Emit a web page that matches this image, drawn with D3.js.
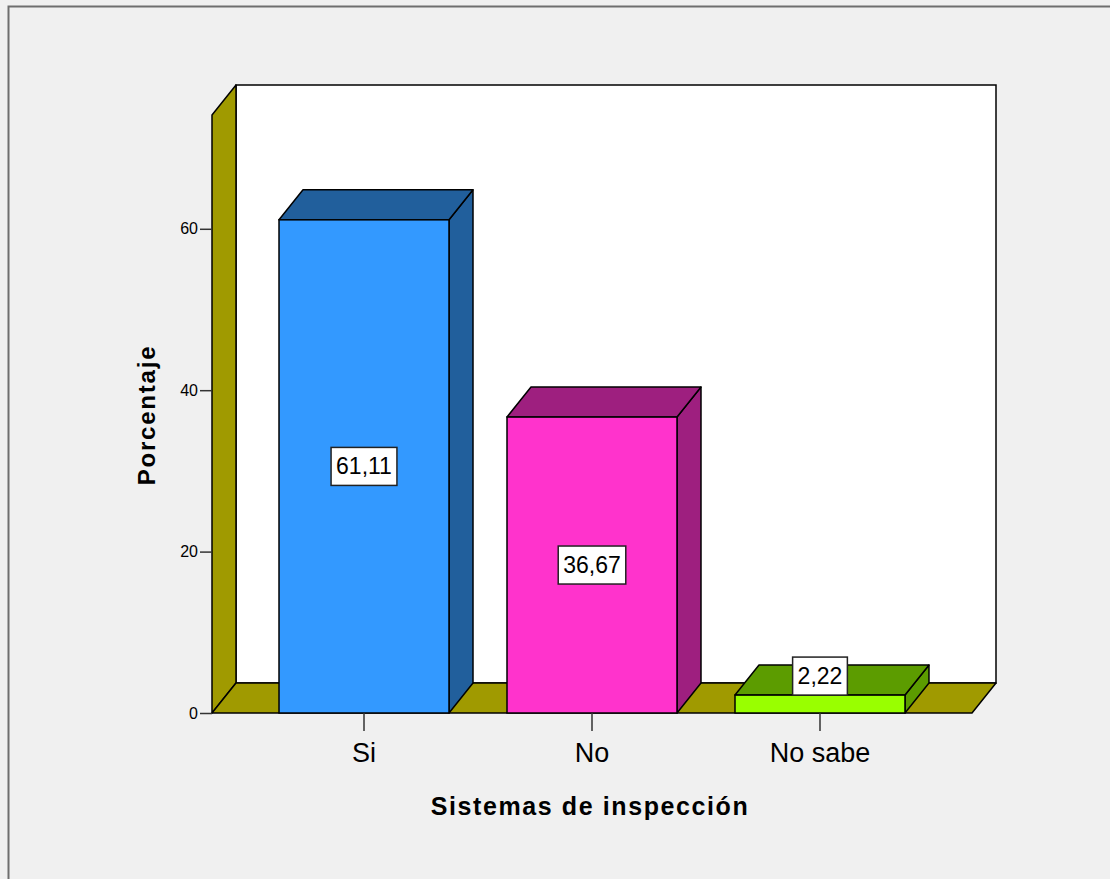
<!DOCTYPE html>
<html>
<head>
<meta charset="utf-8">
<script src="https://cdn.jsdelivr.net/npm/d3@7"></script>
<style>
  html, body { margin: 0; padding: 0; background: #f0f0f0; }
  svg { display: block; }
  text { font-family: "Liberation Sans", Arial, sans-serif; fill: #000; }
</style>
</head>
<body>
<svg id="chart" width="1110" height="879"></svg>
<script>
// Data
const categories = ["Si", "No", "No sabe"];
const percentages = [61.11, 36.67, 2.22];
const valueLabels = ["61,11", "36,67", "2,22"];
const yTicks = [0, 20, 40, 60];
const frontColors = ["#3399ff", "#ff33cc", "#99ff00"];
const depthColors = ["#215f9c", "#9e1f7f", "#5c9c00"];

const W = 1110, H = 879;
const svg = d3.select("#chart");

// Plot geometry (front plane) and 3D depth offset
const plotLeft = 212, plotRight = 972, plotBottom = 713, plotTop = 115;
const dx = 24, dy = -30;

const x = d3.scaleBand()
  .domain(categories)
  .range([plotLeft, plotRight])
  .paddingInner(0.2544)
  .paddingOuter(0.2939);

const y = d3.scaleLinear()
  .domain([0, 74.1])
  .range([plotBottom, plotTop]);

// Outer frame
svg.append("rect")
  .attr("x", 8.5).attr("y", 6.5)
  .attr("width", W + 10).attr("height", H + 10)
  .attr("fill", "#f0f0f0")
  .attr("stroke", "#6e6e6e").attr("stroke-width", 2);

const wallColor = "#a09a00";
const edge = "#000";
const line = d3.line();

// Back wall
svg.append("rect")
  .attr("x", plotLeft + dx).attr("y", plotTop + dy)
  .attr("width", plotRight - plotLeft).attr("height", plotBottom - plotTop)
  .attr("fill", "#fff").attr("stroke", edge).attr("stroke-width", 1.5);

// Left wall
svg.append("path")
  .attr("d", line([[plotLeft, plotBottom], [plotLeft, plotTop], [plotLeft + dx, plotTop + dy], [plotLeft + dx, plotBottom + dy]]) + "Z")
  .attr("fill", wallColor).attr("stroke", edge).attr("stroke-width", 1.5)
  .attr("stroke-linejoin", "round");

// Floor
svg.append("path")
  .attr("d", line([[plotLeft, plotBottom], [plotRight, plotBottom], [plotRight + dx, plotBottom + dy], [plotLeft + dx, plotBottom + dy]]) + "Z")
  .attr("fill", wallColor).attr("stroke", edge).attr("stroke-width", 1.5)
  .attr("stroke-linejoin", "round");

// Bars: side face, top face, front face
const bars = svg.append("g").selectAll("g")
  .data(categories.map((c, i) => ({ c, v: percentages[i], label: valueLabels[i], i })))
  .join("g");

bars.append("path")
  .attr("d", d => {
    const x1 = x(d.c) + x.bandwidth(), yt = y(d.v);
    return line([[x1, plotBottom], [x1, yt], [x1 + dx, yt + dy], [x1 + dx, plotBottom + dy]]) + "Z";
  })
  .attr("fill", d => depthColors[d.i]).attr("stroke", edge).attr("stroke-width", 1.5)
  .attr("stroke-linejoin", "round");

bars.append("path")
  .attr("d", d => {
    const x0 = x(d.c), x1 = x0 + x.bandwidth(), yt = y(d.v);
    return line([[x0, yt], [x1, yt], [x1 + dx, yt + dy], [x0 + dx, yt + dy]]) + "Z";
  })
  .attr("fill", d => depthColors[d.i]).attr("stroke", edge).attr("stroke-width", 1.5)
  .attr("stroke-linejoin", "round");

bars.append("rect")
  .attr("x", d => x(d.c)).attr("y", d => y(d.v))
  .attr("width", x.bandwidth()).attr("height", d => plotBottom - y(d.v))
  .attr("fill", d => frontColors[d.i]).attr("stroke", edge).attr("stroke-width", 1.5);

// Y axis
const yAxis = svg.append("g")
  .attr("transform", `translate(${plotLeft},0)`)
  .call(d3.axisLeft(y).tickValues(yTicks).tickSize(12).tickPadding(2).tickFormat(d3.format("d")));
yAxis.select(".domain").remove();
yAxis.selectAll(".tick line").attr("stroke", "#333").attr("stroke-width", 1.5);
yAxis.selectAll(".tick text")
  .style("font-family", "'Liberation Sans', Arial, sans-serif")
  .style("font-size", "16px").attr("fill", "#000");

// X axis
const xAxis = svg.append("g")
  .attr("transform", `translate(0,${plotBottom})`)
  .call(d3.axisBottom(x).tickSize(18).tickPadding(12));
xAxis.select(".domain").remove();
xAxis.selectAll(".tick line").attr("stroke", "#333").attr("stroke-width", 1.5);
xAxis.selectAll(".tick text")
  .style("font-family", "'Liberation Sans', Arial, sans-serif")
  .style("font-size", "27px").attr("fill", "#000");

// Axis titles
svg.append("text")
  .attr("x", 590).attr("y", 815)
  .attr("text-anchor", "middle")
  .style("font-size", "25px").style("font-weight", "bold")
  .style("letter-spacing", "1.6px")
  .text("Sistemas de inspección");

svg.append("text")
  .attr("transform", `translate(155,${(plotTop + plotBottom) / 2 + 1}) rotate(-90)`)
  .attr("text-anchor", "middle")
  .style("font-size", "24px").style("font-weight", "bold")
  .style("letter-spacing", "1.8px")
  .text("Porcentaje");

// Value labels in boxes
const boxH = 38;
bars.each(function(d) {
  const g = d3.select(this);
  const cx = x(d.c) + x.bandwidth() / 2;
  const barH = plotBottom - y(d.v);
  const cy = barH > boxH ? (y(d.v) + plotBottom) / 2 : y(d.v) - boxH / 2;
  const t = g.append("text")
    .attr("x", cx).attr("y", cy)
    .attr("text-anchor", "middle").attr("dominant-baseline", "central")
    .style("font-size", "23px")
    .text(d.label);
  const bb = t.node().getBBox();
  g.insert("rect", "text")
    .attr("x", cx - bb.width / 2 - 5).attr("y", cy - boxH / 2)
    .attr("width", bb.width + 10).attr("height", boxH)
    .attr("fill", "#fff").attr("stroke", "#222").attr("stroke-width", 1.5);
});
</script>
</body>
</html>
